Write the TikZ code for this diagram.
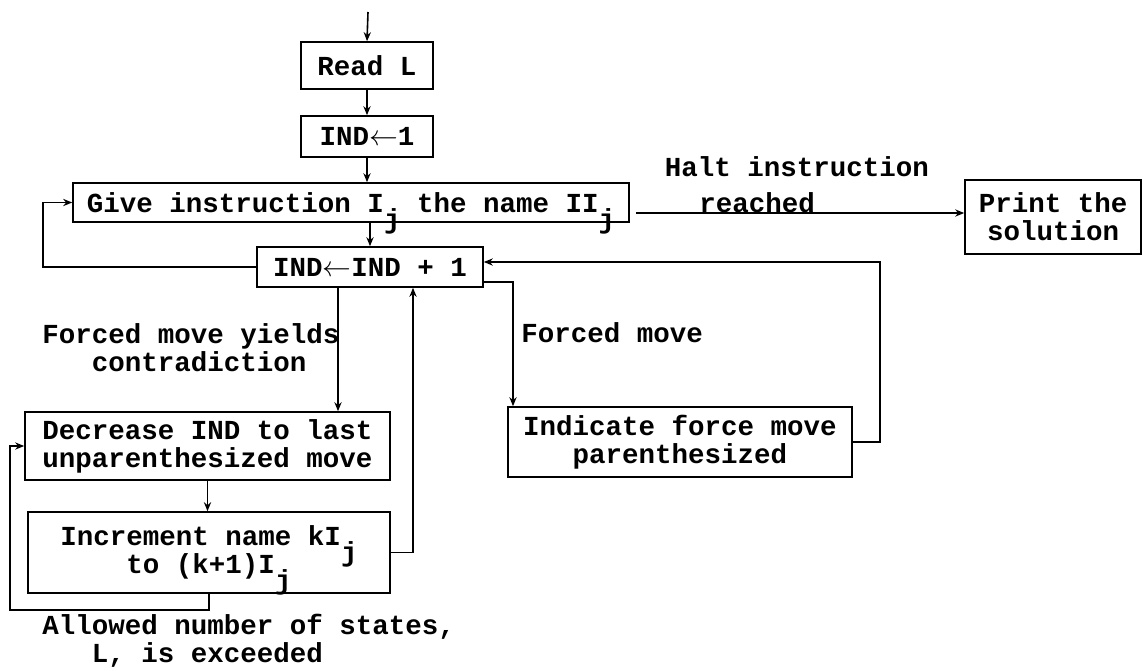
\documentclass[tikz,border=0pt]{standalone}
\usepackage{fontspec}
\newfontfamily\tw{Liberation Mono}
\usetikzlibrary{arrows.meta}
\newcommand{\subj}{\raisebox{-1.1ex}[0pt][0pt]{j}}
\newcommand{\twfont}{\tw\bfseries\fontsize{13.75}{14}\selectfont}
\begin{document}
\begin{tikzpicture}[x=0.5pt,y=-0.5pt,
  box/.style={draw, line width=0.8pt, inner sep=0pt, align=center, font=\twfont},
  lbl/.style={inner sep=0pt, font=\twfont},
  conn/.style={line width=0.8pt},
  arr/.style={conn, -{Stealth[length=4.5pt,width=3.6pt]}}]
\fill[white] (0,0) rectangle (1143,670);
\useasboundingbox (0,0) rectangle (1143,670);

% boxes
\node[box, minimum width=66pt, minimum height=23.5pt] (readL) at (367,65.5) {Read L};
\node[box, minimum width=66pt, minimum height=20.5pt] (ind1) at (367,136.5) {IND$\leftarrow$1};
\node[box, minimum width=278pt, minimum height=19.5pt] (give) at (351,202.5)
  {Give instruction I\subj{} the name II\subj};
\node[box, minimum width=88pt, minimum height=37pt] (print) at (1053,217) {Print the\\solution};
\node[box, minimum width=113pt, minimum height=20pt] (indinc) at (370,267) {IND$\leftarrow$IND + 1};
\node[box, minimum width=182.5pt, minimum height=34pt] (decr) at (207.5,446)
  {Decrease IND to last\\unparenthesized move};
\node[box, minimum width=181pt, minimum height=40.5pt] (incr) at (209,552.5)
  {Increment name kI\subj\\to (k+1)I\subj};
\node[box, minimum width=172pt, minimum height=35pt] (indic) at (680,442)
  {Indicate force move\\parenthesized};

% labels
\node[lbl] (halt1) at (797,167) {Halt instruction};
\node[lbl, anchor=west] (halt2) at (699,203) {reached};
\node[lbl, anchor=west] (forced) at (521,333) {Forced move};
\node[lbl, anchor=west, align=left] (fmy) at (42,347.5)
  {Forced move yields\\\phantom{For}contradiction};
\node[lbl, anchor=west, align=left] (allowed) at (42,641)
  {Allowed number of states,\\\phantom{All}L, is exceeded};

% helper coordinates
\coordinate (start) at (368,12);
\coordinate (hy) at (0,213);
\coordinate (lp) at (43,0);
\coordinate (cL) at (338,0);
\coordinate (cM) at (413,0);
\coordinate (cR) at (513,0);
\coordinate (rr) at (880,262);
\coordinate (bl) at (10,610);

% connectors
\draw[arr] (start) -- (readL.north);
\draw[arr] (readL.south) -- (ind1.north);
\draw[arr] (ind1.south) -- (ind1.south |- give.north);
\draw[arr] (indinc.north |- give.south) -- (indinc.north);
\draw[arr] ([xshift=3pt]give.east |- hy) -- (print.west |- hy);
\draw[arr] (indinc.west) -- (lp |- indinc.west) -- (lp |- give.west) -- (give.west);
\draw[arr] (cL |- indinc.south) -- (cL |- decr.north);
\draw[arr] (incr.east) -| (cM |- indinc.south);
\draw[arr] ([yshift=3pt]indinc.south east) -| (cR |- indic.north);
\draw[arr] (indic.east) -| (rr) -- (rr -| indinc.east);
\draw[arr] (decr.south) -- (decr.south |- incr.north);
\draw[arr] (incr.south) -- (incr.south |- bl) -- (bl) |- (decr.west);
\end{tikzpicture}
\end{document}
